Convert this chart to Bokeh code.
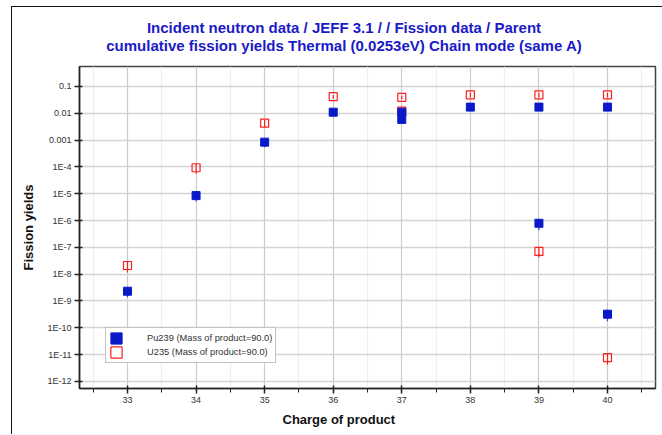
from bokeh.plotting import figure
from bokeh.layouts import column
from bokeh.models import (ColumnDataSource, FixedTicker, CustomJSTickFormatter,
                          Legend, LegendItem, Range1d, Div, Title)
from bokeh.embed import file_html
from bokeh.resources import INLINE

# ---------------- data ----------------
title_lines = ["Incident neutron data / JEFF 3.1 / / Fission data / Parent",
               "cumulative fission yields Thermal (0.0253eV) Chain mode (same A)"]
x_label = "Charge of product"
y_label = "Fission yields"

pu_name = "Pu239 (Mass of product=90.0)"
pu_charge = [33, 34, 35, 36, 37, 37, 38, 39, 39, 40, 40]
pu_yield = [2.3e-9, 8.5e-6, 8.4e-4, 1.1e-2, 1.1e-2, 5.9e-3, 1.7e-2, 1.7e-2, 7.9e-7, 1.7e-2, 3.2e-10]
pu_rel_err = [0.4, 0.4, 0.35, 0.15, 0.15, 0.15, 0.15, 0.15, 0.45, 0.15, 0.45]

u_name = "U235 (Mass of product=90.0)"
u_charge = [33, 34, 35, 36, 37, 37, 38, 39, 39, 40, 40]
u_yield = [2.1e-8, 9.3e-5, 4.3e-3, 4.2e-2, 3.9e-2, 1.2e-2, 4.9e-2, 4.9e-2, 7.0e-8, 4.9e-2, 7.6e-12]
u_rel_err = [0.45, 0.4, 0.3, 0.15, 0.15, 0.15, 0.2, 0.2, 0.4, 0.2, 0.45]

x_ticks = [33, 34, 35, 36, 37, 38, 39, 40]
x_minor_ticks = [32.5, 33.5, 34.5, 35.5, 36.5, 37.5, 38.5, 39.5, 40.5]
y_tick_values = [1e-12, 1e-11, 1e-10, 1e-9, 1e-8, 1e-7, 1e-6, 1e-5, 1e-4, 1e-3, 1e-2, 1e-1]
y_tick_labels = ["1E-12", "1E-11", "1E-10", "1E-9", "1E-8", "1E-7", "1E-6", "1E-5",
                 "1E-4", "0.001", "0.01", "0.1"]

FONT = "Liberation Sans"
BLUE = "#0a1ac8"
RED = "#ff1e1e"
TITLE_BLUE = "#1a1ac8"


def make_source(xs, ys, errs):
    return ColumnDataSource(dict(
        x=xs, y=ys,
        lo=[y * (1 - e) for y, e in zip(ys, errs)],
        hi=[y * (1 + e) for y, e in zip(ys, errs)],
    ))


pu_src = make_source(pu_charge, pu_yield, pu_rel_err)
u_src = make_source(u_charge, u_yield, u_rel_err)

# ---------------- title ----------------
title_div = Div(
    text="<div style='width:636px; text-align:center; margin-left:14px; margin-top:12px; "
         "line-height:18px; font-family:\"Liberation Sans\"; font-weight:bold; "
         f"font-size:15px; color:{TITLE_BLUE};'>" + "<br>".join(title_lines) + "</div>",
    width=650, height=52, margin=0)

# ---------------- plot ----------------
p = figure(width=650, height=375, y_axis_type="log",
           x_range=Range1d(32.3, 40.7), y_range=Range1d(5.4e-13, 0.557),
           output_backend="svg", toolbar_location=None, margin=0,
           min_border_left=67, min_border_right=7, min_border_top=7, min_border_bottom=46)
p.background_fill_color = "white"
p.border_fill_color = "white"
p.outline_line_color = "#444444"
p.outline_line_width = 1.5

# axes
p.xaxis.ticker = FixedTicker(ticks=x_ticks, minor_ticks=x_minor_ticks)
p.yaxis.ticker = FixedTicker(ticks=y_tick_values, minor_ticks=[])
p.yaxis.formatter = CustomJSTickFormatter(
    args=dict(vals=y_tick_values, labs=y_tick_labels),
    code="""
let best = 0, bd = Infinity;
for (let i = 0; i < vals.length; i++) {
  const d = Math.abs(Math.log10(vals[i]) - Math.log10(tick));
  if (d < bd) { bd = d; best = i; }
}
return labs[best];
""")
for ax in (p.xaxis[0], p.yaxis[0]):
    ax.axis_line_color = "#222222"
    ax.axis_line_width = 1.5
    ax.major_tick_line_color = "#222222"
    ax.major_tick_line_width = 1.5
    ax.major_tick_out = 5
    ax.major_tick_in = 3
    ax.major_label_text_font = FONT
    ax.major_label_text_font_size = "9px"
    ax.major_label_text_color = "#333333"
    ax.axis_label_text_font = FONT
    ax.axis_label_text_font_style = "bold"
    ax.axis_label_text_font_size = "13px"
    ax.axis_label_text_color = "#111111"
p.xaxis.minor_tick_line_color = "#222222"
p.xaxis.minor_tick_out = 4
p.xaxis.minor_tick_in = 0
p.xaxis.major_label_standoff = 3
p.yaxis.minor_tick_line_color = None
p.yaxis.major_label_standoff = 3
p.yaxis.axis_label_standoff = 8
p.yaxis.axis_label = y_label

# x axis label placed as a left-aligned title under the axis
p.add_layout(Title(text=x_label, align="left", offset=203, text_font=FONT,
                   text_font_style="bold", text_font_size="13px", text_color="#111111",
                   standoff=8), "below")

# grids
p.xgrid.grid_line_color = "#cccccc"
p.xgrid.grid_line_width = 1.2
p.xgrid.minor_grid_line_color = "#eeeeee"
p.xgrid.minor_grid_line_width = 1.2
p.ygrid.grid_line_color = "#d4d4d4"
p.ygrid.grid_line_width = 1.5

# error bars
p.segment(x0="x", y0="lo", x1="x", y1="hi", source=u_src, line_color=RED, line_width=1.2)
p.segment(x0="x", y0="lo", x1="x", y1="hi", source=pu_src, line_color="#3344d8", line_width=1.2)

# markers (U235 first so Pu239 is drawn on top)
r_u = p.rect(x="x", y="y", width=8, height=8, width_units="screen", height_units="screen",
             source=u_src, fill_color=None, line_color=RED, line_width=1.2)
r_pu = p.rect(x="x", y="y", width=8, height=8, width_units="screen", height_units="screen",
              source=pu_src, fill_color=BLUE, line_color=BLUE, line_width=1)

legend = Legend(items=[LegendItem(label=pu_name, renderers=[r_pu]),
                       LegendItem(label=u_name, renderers=[r_u])],
                location=(26, 25))
legend.label_text_font = FONT
legend.label_text_font_size = "9.3px"
legend.label_text_color = "#333333"
legend.border_line_color = "#888888"
legend.border_line_width = 1
legend.background_fill_color = "white"
legend.background_fill_alpha = 1
legend.padding = 3
legend.spacing = 0
legend.glyph_width = 14
legend.glyph_height = 14
legend.label_height = 13
legend.label_standoff = 24
legend.margin = 0
p.add_layout(legend)

layout = column(title_div, p, spacing=0, margin=(6, 0, 0, 11))
layout.styles = {"border-left": "1px solid #111", "border-top": "1px solid #111"}

open("out.html", "w").write(file_html(layout, INLINE))
